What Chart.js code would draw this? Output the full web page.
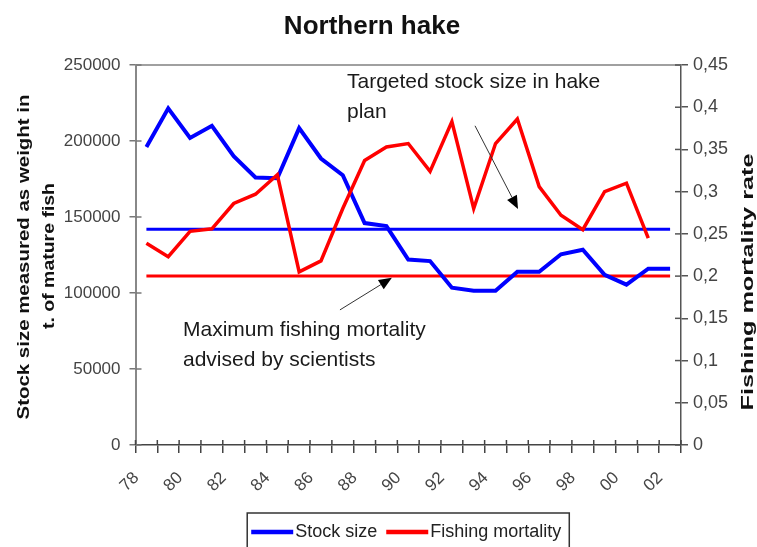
<!DOCTYPE html>
<html>
<head>
<meta charset="utf-8">
<title>Northern hake</title>
<style>
  html, body { margin: 0; padding: 0; background: #ffffff; }
  canvas { display: block; }
</style>
<script src="https://cdn.jsdelivr.net/npm/chart.js@4/dist/chart.umd.min.js"></script>
</head>
<body>
<canvas id="hake" width="757" height="547"></canvas>
<script>
// Years 1978-2002, two-digit labels
const years = ['78','79','80','81','82','83','84','85','86','87','88','89','90',
               '91','92','93','94','95','96','97','98','99','00','01','02'];

// Spawning stock biomass, tonnes of mature fish
const stockSize = [196000, 221500, 202000, 210000, 190000, 176000, 175500, 208500,
                   188500, 177500, 146000, 144000, 122000, 121000, 103500, 101500,
                   101500, 114000, 114000, 125500, 128500, 112000, 105500, 116000, 116000];

// Fishing mortality rate (no estimate for 2002)
const fishingMortality = [0.239, 0.223, 0.253, 0.256, 0.286, 0.297, 0.320, 0.205,
                          0.218, 0.280, 0.337, 0.353, 0.357, 0.324, 0.383, 0.280,
                          0.357, 0.386, 0.306, 0.272, 0.255, 0.300, 0.310, 0.245, null];

// Reference levels
const targetStock = 142000;   // targeted stock size in the recovery plan
const maxMortality = 0.2;     // maximum fishing mortality advised by scientists

// Axis ticks
const stockTicks = [0, 50000, 100000, 150000, 200000, 250000];
const mortalityTicks = [0, 0.05, 0.1, 0.15, 0.2, 0.25, 0.3, 0.35, 0.4, 0.45];
const mortalityTickLabels = ['0', '0,05', '0,1', '0,15', '0,2', '0,25', '0,3', '0,35', '0,4', '0,45'];

// Captions
const chartTitle = 'Northern hake';
const stockAxisTitle = ['Stock size measured as weight in', 't. of mature fish'];
const mortalityAxisTitle = 'Fishing mortality rate';
const targetNote = ['Targeted stock size in hake', 'plan'];
const mortalityNote = ['Maximum fishing mortality', 'advised by scientists'];

const FAMILY = "'Liberation Sans', Arial, Helvetica, sans-serif";
Chart.defaults.font.family = FAMILY;

const BLUE = '#0000ff';
const RED = '#ff0000';

// Text drawn along a rotated baseline, stretched to a given length
function stretchedText(ctx, text, x, y, rotation, length) {
  ctx.save();
  ctx.translate(x, y);
  ctx.rotate(rotation);
  const w = ctx.measureText(text).width;
  ctx.scale(length / w, 1);
  ctx.fillText(text, 0, 0);
  ctx.restore();
}

function arrow(ctx, x0, y0, x1, y1) {
  const ang = Math.atan2(y1 - y0, x1 - x0);
  const head = 13, half = 5.5;
  const bx = x1 - head * Math.cos(ang), by = y1 - head * Math.sin(ang);
  ctx.strokeStyle = '#333';
  ctx.lineWidth = 1;
  ctx.beginPath();
  ctx.moveTo(x0, y0);
  ctx.lineTo(bx, by);
  ctx.stroke();
  ctx.fillStyle = '#000';
  ctx.beginPath();
  ctx.moveTo(x1, y1);
  ctx.lineTo(bx + half * Math.sin(ang), by - half * Math.cos(ang));
  ctx.lineTo(bx - half * Math.sin(ang), by + half * Math.cos(ang));
  ctx.closePath();
  ctx.fill();
}

// White background behind everything
const paper = {
  id: 'paper',
  beforeDraw(chart) {
    const { ctx, width, height } = chart;
    ctx.save();
    ctx.fillStyle = '#ffffff';
    ctx.fillRect(0, 0, width, height);
    ctx.restore();
  }
};

// Frame top edge and tick marks that cross into the plot area
const frame = {
  id: 'frame',
  beforeDatasetsDraw(chart) {
    const { ctx, chartArea: a, scales: { x, y, y1 } } = chart;
    ctx.save();
    ctx.strokeStyle = '#a0a0a0';
    ctx.lineWidth = 2;
    ctx.beginPath();
    ctx.moveTo(a.left, a.top);
    ctx.lineTo(a.right, a.top);
    ctx.stroke();

    ctx.lineWidth = 1.5;
    ctx.strokeStyle = '#777';
    y.ticks.forEach(t => {
      const py = y.getPixelForValue(t.value);
      ctx.beginPath(); ctx.moveTo(a.left, py); ctx.lineTo(a.left + 6, py); ctx.stroke();
    });
    ctx.strokeStyle = '#555';
    y1.ticks.forEach(t => {
      const py = y1.getPixelForValue(t.value);
      ctx.beginPath(); ctx.moveTo(a.right, py); ctx.lineTo(a.right - 6, py); ctx.stroke();
    });
    ctx.strokeStyle = '#444';
    for (let i = 0; i <= years.length; i++) {
      const px = x.getPixelForValue(i - 0.5);
      ctx.beginPath(); ctx.moveTo(px, a.bottom); ctx.lineTo(px, a.bottom - 5); ctx.stroke();
    }
    ctx.restore();
  }
};

// Notes with arrows pointing at the reference lines
const notes = {
  id: 'notes',
  afterDatasetsDraw(chart) {
    const { ctx, scales: { x, y, y1 } } = chart;
    ctx.save();
    ctx.fillStyle = '#1a1a1a';
    ctx.font = '21px ' + FAMILY;
    ctx.textAlign = 'left';
    ctx.textBaseline = 'alphabetic';
    ctx.fillText(targetNote[0], 347, 88);
    ctx.fillText(targetNote[1], 347, 118);
    ctx.fillText(mortalityNote[0], 183, 336);
    ctx.fillText(mortalityNote[1], 183, 366);

    arrow(ctx, x.getPixelForValue(15.06), y.getPixelForValue(210000),
               x.getPixelForValue(17.03), y.getPixelForValue(155300));
    arrow(ctx, x.getPixelForValue(8.87), y1.getPixelForValue(0.16),
               x.getPixelForValue(11.25), y1.getPixelForValue(0.198));
    ctx.restore();
  }
};

// Axis captions (both read bottom to top)
const axisCaptions = {
  id: 'axisCaptions',
  afterDraw(chart) {
    const { ctx, chartArea: a } = chart;
    const mid = (a.top + a.bottom) / 2;
    ctx.save();
    ctx.fillStyle = '#111';
    ctx.font = 'bold 16px ' + FAMILY;
    ctx.textAlign = 'center';
    ctx.textBaseline = 'alphabetic';
    stretchedText(ctx, stockAxisTitle[0], 28.5, mid + 2, -Math.PI / 2, 325);
    stretchedText(ctx, stockAxisTitle[1], 54, mid + 1, -Math.PI / 2, 146);
    stretchedText(ctx, mortalityAxisTitle, 753, mid + 27, -Math.PI / 2, 257);
    ctx.restore();
  }
};

// Boxed key below the axis
const boxedKey = {
  id: 'boxedKey',
  afterDraw(chart) {
    const { ctx, chartArea: a } = chart;
    const items = chart.data.datasets.filter(d => d.inKey);
    ctx.save();
    ctx.font = '18px ' + FAMILY;
    const sw = 42, gap = 2, sep = 9;
    const widths = items.map(d => sw + gap + ctx.measureText(d.label).width);
    const content = widths.reduce((s, w) => s + w, 0) + sep * (items.length - 1);
    const boxW = content + 12;
    const left = (a.left + a.right) / 2 - boxW / 2;
    const top = 513, cy = 532;
    ctx.strokeStyle = '#333';
    ctx.lineWidth = 1.5;
    ctx.strokeRect(left, top, boxW, 40);
    let px = left + 4;
    ctx.textAlign = 'left';
    ctx.textBaseline = 'middle';
    items.forEach((d, i) => {
      ctx.strokeStyle = d.borderColor;
      ctx.lineWidth = 4.5;
      ctx.beginPath();
      ctx.moveTo(px, cy);
      ctx.lineTo(px + sw, cy);
      ctx.stroke();
      ctx.fillStyle = '#222';
      ctx.fillText(d.label, px + sw + gap, cy);
      px += widths[i] + sep;
    });
    ctx.restore();
  }
};

new Chart(document.getElementById('hake'), {
  type: 'line',
  data: {
    labels: years,
    datasets: [
      {
        label: 'Stock size',
        data: stockSize,
        yAxisID: 'y',
        borderColor: BLUE,
        borderWidth: 4,
        pointRadius: 0,
        tension: 0,
        inKey: true,
        order: 2
      },
      {
        label: 'Fishing mortality',
        data: fishingMortality,
        yAxisID: 'y1',
        borderColor: RED,
        borderWidth: 3.5,
        pointRadius: 0,
        tension: 0,
        inKey: true,
        order: 1
      },
      {
        label: 'Maximum advised fishing mortality',
        data: [{ x: years[0], y: maxMortality }, { x: years[years.length - 1], y: maxMortality }],
        yAxisID: 'y1',
        borderColor: RED,
        borderWidth: 3,
        pointRadius: 0,
        order: 3
      },
      {
        label: 'Targeted stock size',
        data: [{ x: years[0], y: targetStock }, { x: years[years.length - 1], y: targetStock }],
        yAxisID: 'y',
        borderColor: BLUE,
        borderWidth: 3,
        pointRadius: 0,
        order: 4
      }
    ]
  },
  options: {
    responsive: false,
    animation: false,
    devicePixelRatio: 1,
    events: [],
    layout: { padding: { top: 0, left: 0, bottom: 0, right: 13 } },
    plugins: {
      legend: { display: false },
      tooltip: { enabled: false },
      title: {
        display: true,
        text: chartTitle,
        color: '#111',
        font: { size: 26, weight: 'bold', family: FAMILY },
        padding: { top: 11.5, bottom: 22.3 }
      }
    },
    scales: {
      x: {
        type: 'category',
        offset: true,
        grid: { offset: true, drawOnChartArea: false, drawTicks: true, tickLength: 8, color: '#444', lineWidth: 1.5 },
        border: { display: true, color: '#444', width: 1.5 },
        ticks: {
          autoSkip: false,
          minRotation: 45,
          maxRotation: 45,
          padding: 15,
          labelOffset: -10,
          color: '#444',
          font: { size: 17 },
          callback: (v, i) => (i % 2 === 0 ? years[i] : '')
        },
        afterFit: s => { s.height = 102; }
      },
      y: {
        position: 'left',
        min: 0,
        max: 250000,
        grid: { drawOnChartArea: false, drawTicks: true, tickLength: 6, color: '#777', lineWidth: 1.5 },
        border: { display: true, color: '#888', width: 2 },
        afterBuildTicks: s => { s.ticks = stockTicks.map(v => ({ value: v })); },
        ticks: {
          padding: 9,
          color: '#444',
          font: { size: 17 },
          callback: v => String(v)
        },
        afterFit: s => { s.width = 135.5; }
      },
      y1: {
        position: 'right',
        min: 0,
        max: 0.45,
        grid: { drawOnChartArea: false, drawTicks: true, tickLength: 7, color: '#555', lineWidth: 1.5 },
        border: { display: true, color: '#555', width: 1.5 },
        afterBuildTicks: s => { s.ticks = mortalityTicks.map(v => ({ value: v })); },
        ticks: {
          padding: 5,
          color: '#444',
          font: { size: 18 },
          callback: (v, i) => mortalityTickLabels[i]
        },
        afterFit: s => { s.width = 63; }
      }
    }
  },
  plugins: [paper, frame, notes, axisCaptions, boxedKey]
});
</script>
</body>
</html>
